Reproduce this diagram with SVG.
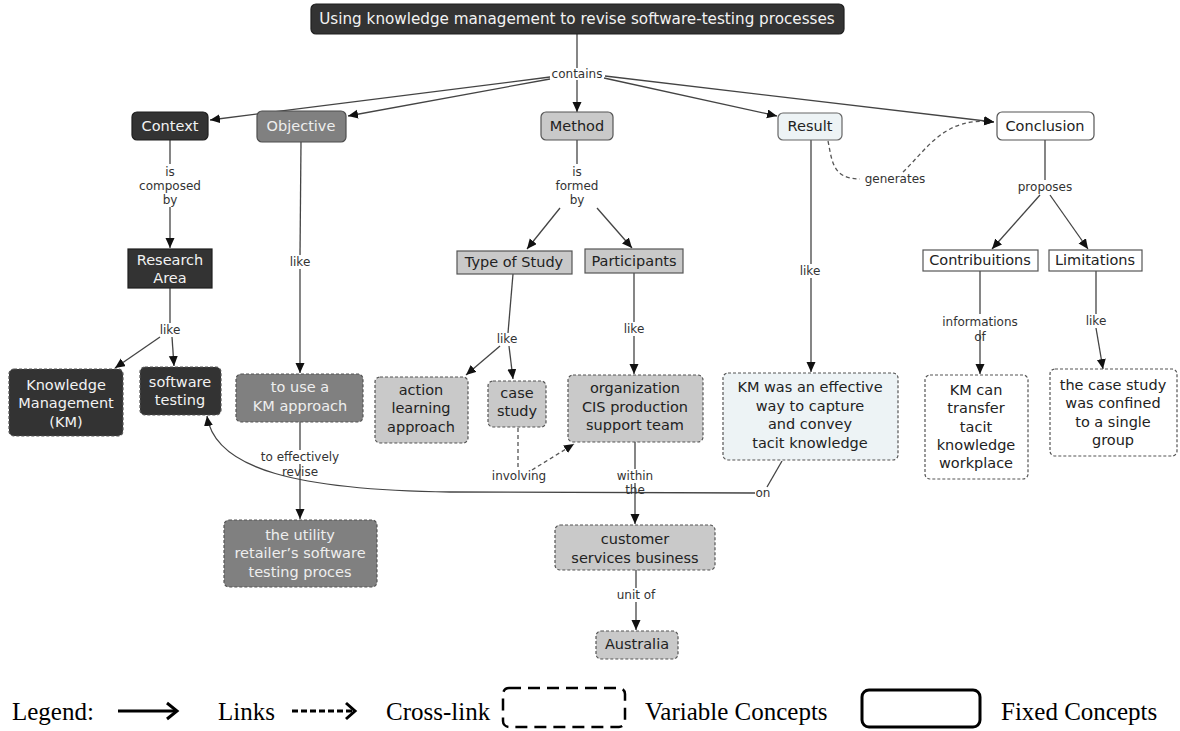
<svg xmlns="http://www.w3.org/2000/svg" width="1180" height="731" viewBox="0 0 1180 731">
  <defs>
    <marker id="arrow" markerUnits="userSpaceOnUse" markerWidth="11" markerHeight="10" refX="10" refY="4.5" orient="auto">
      <path d="M0,0 L10,4.5 L0,9 z" fill="#111"/>
    </marker>
    <style>
      .bg { fill: #ffffff; }
      .node text { font-family: "DejaVu Sans", Verdana, sans-serif; font-size: 14.5px; text-anchor: middle; }
      .dark rect { fill: #333333; stroke: #1e1e1e; stroke-width: 1.2; }
      .dark text { fill: #f2f2f2; }
      .mid rect { fill: #808080; stroke: #4d4d4d; stroke-width: 1.2; }
      .mid text { fill: #eeeeee; }
      .light rect { fill: #c9c9c9; stroke: #555555; stroke-width: 1.2; }
      .light text { fill: #222222; }
      .pale rect { fill: #edf3f5; stroke: #666666; stroke-width: 1.2; }
      .pale text { fill: #222222; }
      .white rect { fill: #ffffff; stroke: #555555; stroke-width: 1.2; }
      .white text { fill: #222222; }
      .var rect { stroke-dasharray: 3 2; stroke: #555555; }
      .links path { fill: none; stroke: #444444; stroke-width: 1.3; }
      .links path.cross { stroke-dasharray: 4 3; stroke: #555555; }
      .labels text { font-family: "DejaVu Sans", Verdana, sans-serif; font-size: 12px; fill: #333333; text-anchor: middle; }
      .legend text { font-family: "Liberation Serif", "Times New Roman", serif; font-size: 25px; fill: #000000; }
    </style>
  </defs>

  <rect class="bg" x="0" y="0" width="1180" height="731"/>

  <!-- connectors -->
  <g id="connectors" class="links">
    <path d="M577 34 L577 68"/>
    <path d="M577 80 L577 112" marker-end="url(#arrow)"/>
    <path d="M550 77 L210 120" marker-end="url(#arrow)"/>
    <path d="M550 79 L348 116" marker-end="url(#arrow)"/>
    <path d="M604 78 L777 116" marker-end="url(#arrow)"/>
    <path d="M605 76 L994 122" marker-end="url(#arrow)"/>

    <path d="M170 140 L170 164"/>
    <path d="M170 207 L170 248" marker-end="url(#arrow)"/>
    <path d="M170 288 L170 323"/>
    <path d="M160 337 L115 368" marker-end="url(#arrow)"/>
    <path d="M172 337 L174 366" marker-end="url(#arrow)"/>

    <path d="M301 142 L300 255"/>
    <path d="M300 269 L300 373" marker-end="url(#arrow)"/>
    <path d="M300 422 L300 450"/>
    <path d="M300 464 L300 519" marker-end="url(#arrow)"/>

    <path d="M577 140 L577 164"/>
    <path d="M560 208 L527 249" marker-end="url(#arrow)"/>
    <path d="M597 208 L632 248" marker-end="url(#arrow)"/>
    <path d="M513 274 L508 333"/>
    <path d="M500 346 L466 375" marker-end="url(#arrow)"/>
    <path d="M509 346 L513 379" marker-end="url(#arrow)"/>
    <path d="M634 273 L634 322"/>
    <path d="M634 336 L634 374" marker-end="url(#arrow)"/>
    <path d="M635 442 L635 469"/>
    <path d="M635 483 L635 524" marker-end="url(#arrow)"/>
    <path d="M636 570 L636 588"/>
    <path d="M636 602 L636 630" marker-end="url(#arrow)"/>
    <path class="cross" d="M518 428 L518 467"/>
    <path class="cross" d="M532 470 L574 444" marker-end="url(#arrow)"/>

    <path d="M811 140 L811 264"/>
    <path d="M811 278 L811 372" marker-end="url(#arrow)"/>
    <path class="cross" d="M828 141 C832 160, 832 179, 860 179"/>
    <path class="cross" d="M903 172 C928 148, 945 116, 994 122" marker-end="url(#arrow)"/>
    <path d="M782 461 L767 487"/>
    <path d="M755 493 L450 492 C300 490, 215 470, 207 416" marker-end="url(#arrow)"/>

    <path d="M1045 140 L1045 180"/>
    <path d="M1040 195 L992 249" marker-end="url(#arrow)"/>
    <path d="M1050 195 L1088 249" marker-end="url(#arrow)"/>
    <path d="M980 271 L980 314"/>
    <path d="M980 330 L980 374" marker-end="url(#arrow)"/>
    <path d="M1096 271 L1096 314"/>
    <path d="M1096 328 L1103 369" marker-end="url(#arrow)"/>
  </g>

  <!-- link phrases -->
  <g id="link-labels" class="labels">
    <text x="577" y="78">contains</text>
    <text x="170" y="176">is</text>
    <text x="170" y="190">composed</text>
    <text x="170" y="204">by</text>
    <text x="170" y="334">like</text>
    <text x="300" y="266">like</text>
    <text x="300" y="461">to effectively</text>
    <text x="300" y="476">revise</text>
    <text x="577" y="176">is</text>
    <text x="577" y="190">formed</text>
    <text x="577" y="204">by</text>
    <text x="507" y="343">like</text>
    <text x="634" y="333">like</text>
    <text x="519" y="480">involving</text>
    <text x="635" y="480">within</text>
    <text x="635" y="494">the</text>
    <text x="636" y="599">unit of</text>
    <text x="810" y="275">like</text>
    <text x="895" y="183">generates</text>
    <text x="763" y="497">on</text>
    <text x="1045" y="191">proposes</text>
    <text x="980" y="326">informations</text>
    <text x="980" y="341">of</text>
    <text x="1096" y="325">like</text>
  </g>

  <!-- concepts -->
  <g id="node-title" class="node dark">
    <rect x="311" y="4" width="533" height="30" rx="5"/>
    <text x="577" y="24" style="font-size:15.2px">Using knowledge management to revise software-testing processes</text>
  </g>
  <g id="node-context" class="node dark">
    <rect x="132" y="112" width="76" height="28" rx="5"/>
    <text x="170" y="131">Context</text>
  </g>
  <g id="node-objective" class="node mid">
    <rect x="257" y="111" width="89" height="31" rx="5"/>
    <text x="301" y="131">Objective</text>
  </g>
  <g id="node-method" class="node light">
    <rect x="541" y="112" width="72" height="28" rx="5"/>
    <text x="577" y="131">Method</text>
  </g>
  <g id="node-result" class="node pale">
    <rect x="778" y="113" width="64" height="27" rx="5"/>
    <text x="810" y="131">Result</text>
  </g>
  <g id="node-conclusion" class="node white">
    <rect x="997" y="112" width="97" height="28" rx="5"/>
    <text x="1045" y="131">Conclusion</text>
  </g>

  <g id="node-research-area" class="node dark">
    <rect x="128" y="249" width="84" height="39"/>
    <text x="170" y="265">Research</text>
    <text x="170" y="283">Area</text>
  </g>
  <g id="node-km" class="node dark var">
    <rect x="9" y="369" width="114" height="67" rx="5"/>
    <text x="66" y="390">Knowledge</text>
    <text x="66" y="408">Management</text>
    <text x="66" y="427">(KM)</text>
  </g>
  <g id="node-software-testing" class="node dark var">
    <rect x="140" y="367" width="81" height="48" rx="5"/>
    <text x="180" y="387">software</text>
    <text x="180" y="405">testing</text>
  </g>

  <g id="node-km-approach" class="node mid var">
    <rect x="236" y="374" width="127" height="48" rx="5"/>
    <text x="300" y="392">to use a</text>
    <text x="300" y="411">KM approach</text>
  </g>
  <g id="node-utility" class="node mid var">
    <rect x="224" y="520" width="153" height="67" rx="5"/>
    <text x="300" y="540">the utility</text>
    <text x="300" y="558">retailer’s software</text>
    <text x="300" y="577">testing proces</text>
  </g>

  <g id="node-type-of-study" class="node light">
    <rect x="457" y="251" width="115" height="23"/>
    <text x="514" y="267">Type of Study</text>
  </g>
  <g id="node-participants" class="node light">
    <rect x="585" y="249" width="98" height="24"/>
    <text x="634" y="266">Participants</text>
  </g>
  <g id="node-action-learning" class="node light var">
    <rect x="375" y="377" width="93" height="66" rx="5"/>
    <text x="421" y="395">action</text>
    <text x="421" y="413">learning</text>
    <text x="421" y="432">approach</text>
  </g>
  <g id="node-case-study" class="node light var">
    <rect x="488" y="381" width="58" height="46" rx="5"/>
    <text x="517" y="398">case</text>
    <text x="517" y="416">study</text>
  </g>
  <g id="node-organization" class="node light var">
    <rect x="568" y="375" width="135" height="67" rx="5"/>
    <text x="635" y="393">organization</text>
    <text x="635" y="412">CIS production</text>
    <text x="635" y="430">support team</text>
  </g>
  <g id="node-customer-services" class="node light var">
    <rect x="555" y="525" width="160" height="45" rx="5"/>
    <text x="635" y="544">customer</text>
    <text x="635" y="563">services business</text>
  </g>
  <g id="node-australia" class="node light var">
    <rect x="596" y="631" width="82" height="28" rx="5"/>
    <text x="637" y="649">Australia</text>
  </g>

  <g id="node-km-effective" class="node pale var">
    <rect x="723" y="373" width="175" height="87" rx="5"/>
    <text x="810" y="392">KM was an effective</text>
    <text x="810" y="411">way to capture</text>
    <text x="810" y="429">and convey</text>
    <text x="810" y="448">tacit knowledge</text>
  </g>

  <g id="node-contributions" class="node white">
    <rect x="923" y="250" width="115" height="21"/>
    <text x="980" y="265">Contribuitions</text>
  </g>
  <g id="node-limitations" class="node white">
    <rect x="1049" y="250" width="93" height="21"/>
    <text x="1095" y="265">Limitations</text>
  </g>
  <g id="node-km-transfer" class="node white var">
    <rect x="925" y="375" width="103" height="104" rx="5"/>
    <text x="976" y="395">KM can</text>
    <text x="976" y="413">transfer</text>
    <text x="976" y="432">tacit</text>
    <text x="976" y="450">knowledge</text>
    <text x="976" y="468">workplace</text>
  </g>
  <g id="node-single-group" class="node white var">
    <rect x="1050" y="369" width="127" height="87" rx="5"/>
    <text x="1113" y="390">the case study</text>
    <text x="1113" y="408">was confined</text>
    <text x="1113" y="427">to a single</text>
    <text x="1113" y="445">group</text>
  </g>

  <!-- legend -->
  <g id="legend" class="legend">
    <text x="12" y="720">Legend:</text>
    <line x1="118" y1="711" x2="175" y2="711" stroke="#000" stroke-width="3"/>
    <polyline points="167,703 177,711 167,719" fill="none" stroke="#000" stroke-width="3"/>
    <text x="218" y="720">Links</text>
    <line x1="292" y1="711" x2="352" y2="711" stroke="#000" stroke-width="3" stroke-dasharray="6 3"/>
    <polyline points="346,703 355,711 346,719" fill="none" stroke="#000" stroke-width="3"/>
    <text x="386" y="720">Cross-link</text>
    <rect x="503" y="688" width="122" height="39" rx="6" fill="none" stroke="#000" stroke-width="2.5" stroke-dasharray="12 7"/>
    <text x="645" y="720">Variable Concepts</text>
    <rect x="862" y="690" width="118" height="37" rx="7" fill="none" stroke="#000" stroke-width="3"/>
    <text x="1001" y="720">Fixed Concepts</text>
  </g>
</svg>
